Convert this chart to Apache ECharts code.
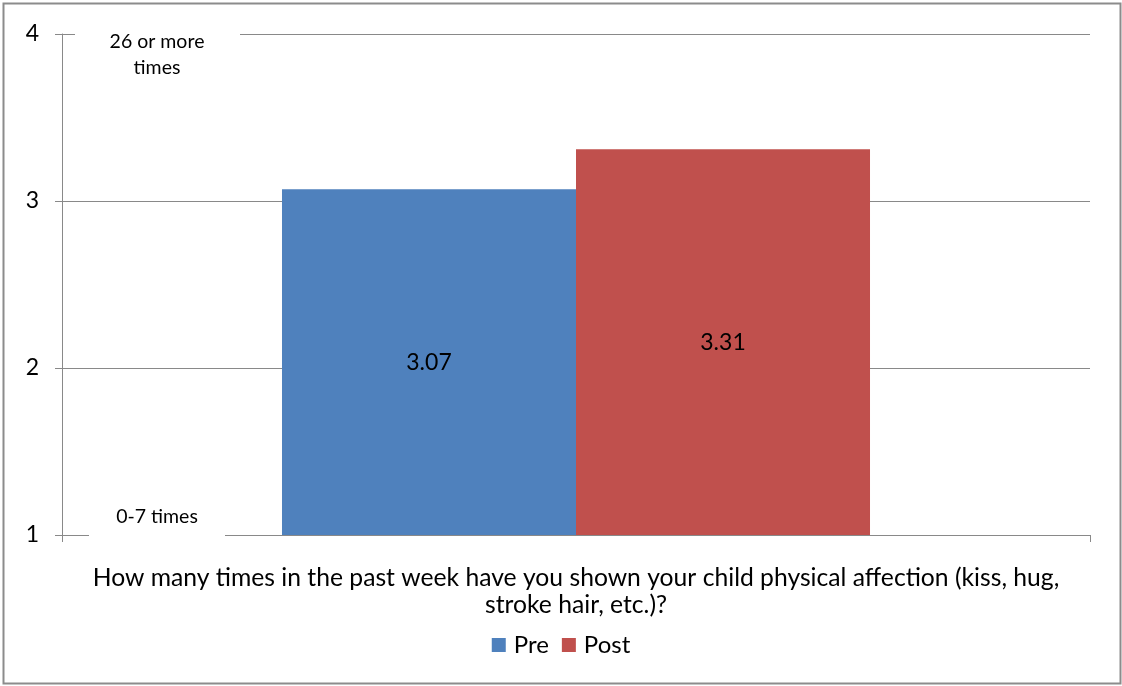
<!DOCTYPE html>
<html>
<head>
<meta charset="utf-8">
<style>
  html, body { margin: 0; padding: 0; background: #fff; }
  #chart { width: 1122px; height: 686px; }
</style>
<script src="https://cdn.jsdelivr.net/npm/echarts@6/dist/echarts.min.js"></script>
</head>
<body>
<div id="chart"></div>
<script>
// Survey question (single category) and mean scores
const categories = ['How many times in the past week have you shown your child physical affection (kiss, hug, stroke hair, etc.)?'];
const seriesNames = ['Pre', 'Post'];
const preValues = [3.07];
const postValues = [3.31];
const seriesColors = ['#4F81BD', '#C0504D'];

// Scale anchors
const yMin = 1, yMax = 4, yInterval = 1;
const topAnchorText = '26 or more\ntimes';
const bottomAnchorText = '0-7 times';

const FONT = 'Lato, "Open Sans", sans-serif';
const AXIS_GRAY = '#898989';

const chart = echarts.init(document.getElementById('chart'));

const option = {
  animation: false,
  backgroundColor: '#fff',
  textStyle: { fontFamily: FONT, color: '#000' },
  grid: { left: 62, right: 32, top: 34, bottom: 151, containLabel: false },
  legend: {
    data: seriesNames,
    bottom: 24,
    left: 'center',
    itemWidth: 14,
    itemHeight: 14,
    itemGap: 13,
    icon: 'rect',
    textStyle: { fontSize: 24, fontFamily: FONT, color: '#000', padding: [0, 0, 0, 3] }
  },
  xAxis: {
    type: 'category',
    data: categories,
    boundaryGap: true,
    axisLine: { lineStyle: { color: AXIS_GRAY, width: 1 } },
    axisTick: { show: true, length: 7, inside: false, lineStyle: { color: AXIS_GRAY } },
    axisLabel: {
      fontSize: 24.7,
      color: '#000',
      fontFamily: FONT,
      margin: 30,
      lineHeight: 27,
      formatter: v => v.replace('hug, ', 'hug,\n')
    }
  },
  yAxis: {
    type: 'value',
    min: yMin,
    max: yMax,
    interval: yInterval,
    axisLine: { show: true, lineStyle: { color: AXIS_GRAY, width: 1 } },
    axisTick: { show: true, length: 7, lineStyle: { color: AXIS_GRAY } },
    axisLabel: { fontSize: 23, color: '#000', fontFamily: FONT, margin: 23 },
    splitLine: { show: true, lineStyle: { color: AXIS_GRAY, width: 1 } }
  },
  series: [
    {
      name: seriesNames[0],
      type: 'bar',
      data: preValues,
      barWidth: '28.6%',
      barGap: '0%',
      itemStyle: { color: seriesColors[0] },
      label: {
        show: true, position: 'inside', color: '#000',
        fontSize: 23, fontFamily: FONT,
        formatter: p => p.value.toFixed(2)
      }
    },
    {
      name: seriesNames[1],
      type: 'bar',
      data: postValues,
      barWidth: '28.6%',
      barGap: '0%',
      itemStyle: { color: seriesColors[1] },
      label: {
        show: true, position: 'inside', color: '#000',
        fontSize: 23, fontFamily: FONT,
        formatter: p => p.value.toFixed(2)
      }
    }
  ]
};

chart.setOption(option);

// Scale-anchor captions on white boxes sitting over the top gridline and the baseline
const yTop = chart.convertToPixel({ yAxisIndex: 0 }, yMax);
const yBottom = chart.convertToPixel({ yAxisIndex: 0 }, yMin);

chart.setOption({
  graphic: [
    // outer chart frame
    {
      type: 'rect', silent: true, z: 0,
      shape: { x: 3.5, y: 3.5, width: 1117, height: 680 },
      style: { fill: null, stroke: '#8c8c8c', lineWidth: 2 }
    },
    {
      type: 'rect', silent: true, z: 50,
      shape: { x: 75, y: yTop - 14, width: 165, height: 62 },
      style: { fill: '#fff' }
    },
    {
      type: 'text', silent: true, z: 51,
      x: 157, y: yTop + 21,
      style: {
        text: topAnchorText, fill: '#000', fontSize: 19.5, fontFamily: FONT,
        align: 'center', verticalAlign: 'middle', lineHeight: 26
      }
    },
    {
      type: 'rect', silent: true, z: 50,
      shape: { x: 89, y: yBottom - 32, width: 136, height: 34 },
      style: { fill: '#fff' }
    },
    {
      type: 'text', silent: true, z: 51,
      x: 157, y: yBottom - 18,
      style: {
        text: bottomAnchorText, fill: '#000', fontSize: 19.5, fontFamily: FONT,
        align: 'center', verticalAlign: 'middle'
      }
    }
  ]
});
</script>
</body>
</html>
